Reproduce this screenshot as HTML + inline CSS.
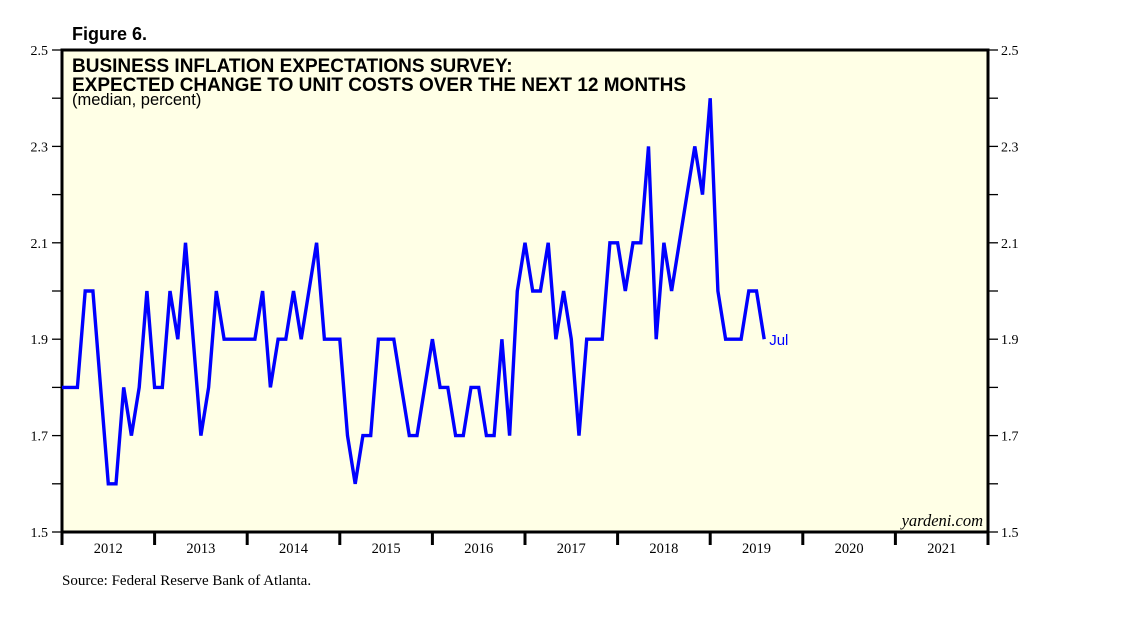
<!DOCTYPE html>
<html><head><meta charset="utf-8"><style>
body{margin:0;background:#fff;}
svg{display:block;font-family:"Liberation Sans",sans-serif;}
</style></head><body>
<svg id="chart" width="1138" height="621" viewBox="0 0 1138 621" xmlns="http://www.w3.org/2000/svg">
<text x="72" y="40" font-size="18" font-weight="bold">Figure 6.</text>
<rect x="62" y="50" width="926" height="482" fill="#ffffe6" stroke="#000" stroke-width="3"/>
<text x="72" y="72" font-size="19" font-weight="bold">BUSINESS INFLATION EXPECTATIONS SURVEY:</text>
<text x="72" y="91" font-size="19" font-weight="bold">EXPECTED CHANGE TO UNIT COSTS OVER THE NEXT 12 MONTHS</text>
<text x="72" y="105" font-size="16.5">(median, percent)</text>
<g id="axes"></g>
<g id="series"></g>
<text x="983" y="526" font-size="16.5" font-style="italic" text-anchor="end" font-family="Liberation Serif, serif">yardeni.com</text>
<text x="62" y="585" font-size="15" font-family="Liberation Serif, serif">Source: Federal Reserve Bank of Atlanta.</text>
</svg>
<script>
const years = [2012,2013,2014,2015,2016,2017,2018,2019,2020,2021];
const yTickLabels = ["1.5","1.7","1.9","2.1","2.3","2.5"];
const values = [1.8,1.8,1.8,2.0,2.0,1.8,1.6,1.6,1.8,1.7,1.8,2.0,1.8,1.8,2.0,1.9,2.1,1.9,1.7,1.8,
2.0,1.9,1.9,1.9,1.9,1.9,2.0,1.8,1.9,1.9,2.0,1.9,2.0,2.1,1.9,1.9,1.9,1.7,1.6,1.7,
1.7,1.9,1.9,1.9,1.8,1.7,1.7,1.8,1.9,1.8,1.8,1.7,1.7,1.8,1.8,1.7,1.7,1.9,1.7,2.0,
2.1,2.0,2.0,2.1,1.9,2.0,1.9,1.7,1.9,1.9,1.9,2.1,2.1,2.0,2.1,2.1,2.3,1.9,2.1,2.0,
2.1,2.2,2.3,2.2,2.4,2.0,1.9,1.9,1.9,2.0,2.0,1.9];
const lastLabel = "Jul";
const NS="http://www.w3.org/2000/svg";
const X0=62,X1=988,Y0=532,Y1=50,VMIN=1.5,VMAX=2.5;
const monthW=(X1-X0)/120;
function xm(i){return X0+i*monthW;}
function yv(v){return Y0-(v-VMIN)/(VMAX-VMIN)*(Y0-Y1);}
const axes=document.getElementById('axes');
function mk(tag,attrs,parent){const e=document.createElementNS(NS,tag);for(const k in attrs)e.setAttribute(k,attrs[k]);parent.appendChild(e);return e;}
for(let k=0;k<=10;k++){
  const v=VMIN+k*0.1, y=yv(v);
  const t1=mk('line',{x1:X0-10,x2:X0,y1:y,y2:y,stroke:'#000','stroke-width':1.3},axes);
  
  
  const t2=mk('line',{x1:X1,x2:X1+10,y1:y,y2:y,stroke:'#000','stroke-width':1.3},axes);
  
  
}
yTickLabels.forEach(s=>{
  const y=yv(parseFloat(s));
  const a=mk('text',{x:X0-14,y:y+5,'font-size':14,'text-anchor':'end','font-family':'Liberation Serif, serif'},axes);a.textContent=s;
  
  
  const b=mk('text',{x:X1+13,y:y+5,'font-size':14,'font-family':'Liberation Serif, serif'},axes);b.textContent=s;
  
  
});
years.forEach((yr,i)=>{
  const xs=xm(i*12);
  const t=mk('line',{x1:xs,x2:xs,y1:Y0,y2:Y0+13,stroke:'#000','stroke-width':3},axes);
  
  
  const l=mk('text',{x:xm(i*12+6),y:Y0+21,'font-size':14.5,'text-anchor':'middle','font-family':'Liberation Serif, serif'},axes);l.textContent=yr;
  
  
});
const lastTick=mk('line',{x1:X1,x2:X1,y1:Y0,y2:Y0+13,stroke:'#000','stroke-width':3},axes);


const ser=document.getElementById('series');
const pts=values.map((v,i)=>xm(i).toFixed(1)+','+yv(v).toFixed(1)).join(' ');
const pl=mk('polyline',{points:pts,fill:'none',stroke:'#0000ff','stroke-width':3.4,'stroke-linejoin':'miter'},ser);


const li=values.length-1;
const lt=mk('text',{x:xm(li)+5,y:yv(values[li])+6,'font-size':15,fill:'#0000ff'},ser);lt.textContent=lastLabel;


</script>
</body></html>
